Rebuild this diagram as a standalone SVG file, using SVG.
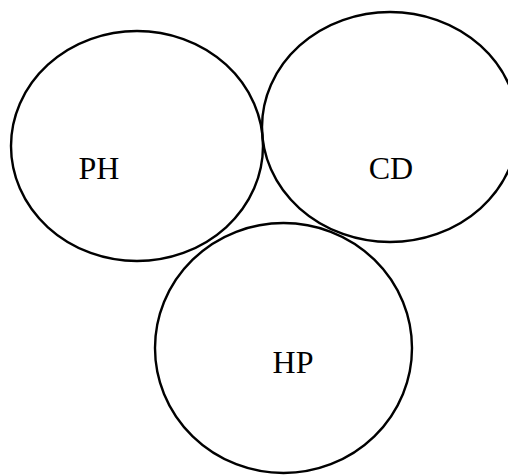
<svg xmlns="http://www.w3.org/2000/svg" width="508" height="475" viewBox="0 0 508 475">
  <style>
    .ring { fill: none; stroke: #000; stroke-width: 2.4; }
    .label { font-family: "Liberation Serif", "Times New Roman", serif; font-size: 32px; fill: #000; text-anchor: middle; }
  </style>
  <rect width="508" height="475" fill="#fff"/>
  <g id="node-ph">
    <ellipse class="ring" cx="137" cy="146" rx="126" ry="115"/>
    <text class="label" x="99" y="179">PH</text>
  </g>
  <g id="node-cd">
    <ellipse class="ring" cx="390" cy="127" rx="128" ry="115"/>
    <text class="label" x="391" y="179">CD</text>
  </g>
  <g id="node-hp">
    <ellipse class="ring" cx="283.5" cy="348" rx="128.5" ry="125"/>
    <text class="label" x="293" y="373">HP</text>
  </g>
  <g id="connectors"></g>
</svg>
